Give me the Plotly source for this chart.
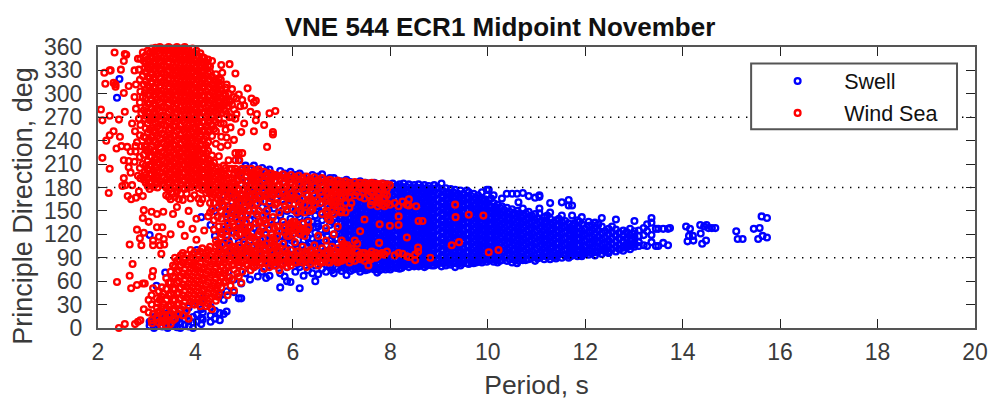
import plotly.graph_objects as go

title_text = "VNE 544 ECR1 Midpoint November"
x_label = "Period, s"
y_label = "Principle Direction, deg"
x_ticks = [2, 4, 6, 8, 10, 12, 14, 16, 18, 20]
y_ticks = [0, 30, 60, 90, 120, 150, 180, 210, 240, 270, 300, 330, 360]
reference_directions = [90, 180, 270]

# Swell: each row is one period and the directions read at that period
swell_columns = [
 (3.06,[119,3,8]),(3.15,[0,6,14]),(3.2,[54,12,3]),(3.32,[2,9,17]),(3.38,[71,5,13]),(3.43,[0,8,19]),(3.55,[4,12,23]),(3.62,[9,17,1]),
 (3.69,[0,6,15,22]),(3.78,[4,11,19]),(3.86,[2,9,26]),(3.95,[0,7,14,31]),(4.03,[8,17,100]),(4.12,[142,5,13,24]),(4.15,[11,20,38]),
 (4.31,[8,16,27,132]),(4.4,[12,22,118,150]),(4.5,[10,19,43,160,105]),(4.58,[36,18,88,126,170]),(4.64,[21,47,112,142,97]),(4.68,[112,156,175,131,72]),
 (4.79,[46,62,96,122,148,168,186]),(4.89,[215,38,80,110,136,158,178,196]),(4.94,[38,57,92,127,151,170,203]),(5.03,[70,103,120,145,165,188,208]),
 (5.12,[62,86,112,138,160,182,204]),(5.2,[208,78,99,128,152,175,195]),(5.28,[66,92,118,143,168,188,203]),(5.37,[205,72,105,130,155,180,196]),
 (5.45,[64,88,120,146,170,192,201]),(5.52,[67,98,112,138,162,184,203]),(5.61,[80,106,128,153,176,196]),(5.74,[52,70,92,118,144,170,190,201]),
 (5.83,[66,86,110,132,158,180,198]),(5.88,[60,78,102,124,150,172,194]),(5.95,[59,200,94,116,140,164,186]),(6.05,[72,86,108,128,150,174,196]),
 (6.14,[51,78,98,120,142,164,186,198]),(6.22,[67,90,112,134,156,178,194]),(6.31,[74,84,104,126,148,170,190]),(6.4,[70,92,114,136,158,180,196]),
 (6.46,[60,80,100,122,144,166,186]),(6.52,[69,88,108,130,152,174,194]),(6.6,[197,76,96,116,138,160,182]),(6.68,[72,86,106,124,146,168,188]),
 (6.76,[78,94,112,132,154,176,192]),(6.84,[192,70,86,102,120,140,162,182]),(6.92,[76,92,108,128,148,170,188]),
 (7.0,[188,181,173,165,158,150,142,135,127,119,112,104,96,89,81,73]),
 (7.1,[190,183,175,168,160,152,145,137,129,122,114,106,99,91,83,76,68]),
 (7.18,[187,180,172,164,156,149,141,133,126,118,110,103,95,87,80,73]),
 (7.29,[186,178,171,163,155,147,140,132,124,117,109,101,94,86,78]),
 (7.38,[188,181,173,166,158,150,143,135,127,120,112,104,97,89,81,72]),
 (7.49,[186,178,170,163,155,148,140,132,125,117,109,102,94,86,79,74]),
 (7.58,[185,177,170,162,154,146,139,131,123,116,108,100,93,85,77]),
 (7.67,[186,179,171,163,156,148,140,133,125,117,110,102,94,87,79,75]),
 (7.73,[184,176,168,161,153,145,138,130,122,115,107,99,92,84,76,71]),
 (7.86,[185,177,169,162,154,146,139,131,123,116,108,100,93,85,78]),
 (7.95,[184,177,169,161,154,146,138,131,123,115,108,100,92,85,77]),
 (8.05,[185,178,170,162,155,147,139,132,124,116,109,101,93,86,78]),
 (8.19,[184,176,169,161,153,146,138,130,123,115,107,100,92,84,76]),
 (8.27,[185,177,170,162,154,147,139,131,124,116,108,101,93,85,79]),
 (8.38,[184,176,168,161,153,145,138,130,122,115,107,99,92,84,78]),
 (8.49,[183,176,168,160,153,145,137,130,122,114,107,99,91,84,79]),
 (8.58,[184,177,169,161,154,146,138,131,123,115,108,100,92,85,79]),
 (8.7,[183,175,167,160,152,144,137,129,121,114,106,98,91,83,78]),
 (8.79,[182,174,167,159,151,144,136,128,121,113,105,98,90,82]),
 (8.9,[183,175,168,160,152,145,137,129,122,114,106,99,91,84,80]),
 (9.05,[185,178,170,162,155,147,139,132,124,116,109,101,93,86,79]),
 (9.14,[179,172,164,156,149,141,133,126,118,110,103,95,87,80]),
 (9.24,[178,170,162,155,147,139,132,124,116,109,101,93,86,81]),
 (9.33,[177,169,161,154,146,138,131,123,115,108,100,92,85,78]),
 (9.44,[176,168,161,153,145,138,130,122,115,107,99,92,84,80]),
 (9.57,[168,176,160,152,144,137,129,121,114,106,98,91,83]),
 (9.61,[174,166,158,151,143,135,128,120,112,105,97,89,82]),
 (9.71,[172,164,157,149,141,134,126,118,111,103,95,88,83]),
 (9.8,[170,162,154,147,139,131,124,116,108,101,93,85]),
 (9.88,[174,165,157,149,142,134,126,119,111,103,96,88,84]),
 (9.98,[170,177,160,152,145,137,129,122,114,106,99,91,85]),
 (10.02,[177,164,156,148,141,133,125,118,110,102,95,87]),
 (10.12,[170,160,152,145,137,129,122,114,106,99,91,85]),
 (10.2,[158,150,143,135,127,120,112,104,97,89,84]),
 (10.29,[166,156,149,141,133,126,118,110,103,95,87]),
 (10.39,[172,154,147,139,131,124,116,108,101,93,86]),
 (10.5,[172,152,145,137,129,122,114,106,99,91,84]),
 (10.6,[172,150,143,135,127,120,112,104,97,89,83]),
 (10.63,[161,146,138,130,123,115,107,100,92,86]),
 (10.72,[173,153,144,136,129,121,113,106,98,90,87]),
 (10.84,[169,149,141,134,126,118,111,103,95,88]),
 (10.97,[167,146,138,131,123,115,108,100,92,86]),
 (11.06,[170,168,153,147,136,128,120,113,105,97,90]),
 (11.16,[142,134,126,119,111,103,96,88]),
 (11.28,[148,160,140,132,125,117,109,102,94,88]),
 (11.4,[138,131,123,115,108,100,92,89]),
 (11.52,[161,144,136,128,121,113,105,98,90]),
 (11.66,[164,157,134,127,119,111,104,96,90]),
 (11.73,[157,144,131,124,116,108,101,93]),
 (11.84,[138,130,122,115,107,99,92]),
 (11.93,[142,133,125,118,110,102,95,92]),
 (12.07,[131,136,123,116,108,100,94]),
 (12.2,[135,128,120,113,105,97,93]),
 (12.34,[141,130,122,114,107,100,95]),
 (12.48,[127,120,112,105,98,96]),
 (12.63,[139,126,118,111,104,98]),
 (12.78,[125,118,110,103,99]),
 (12.92,[127,119,112,105,101]),
 (13.01,[137,124,117,109,104]),
 (13.1,[125,118,110,105]),
 (13.2,[128,119,106]),(13.27,[133,124,105]),(13.36,[141,135,119,110]),(13.45,[127,105]),(13.5,[127,105]),(13.6,[127,109]),(13.7,[127,106]),(13.74,[128]),
 (14.07,[130]),(14.1,[111]),(14.13,[118]),(14.15,[127]),(14.21,[118]),(14.22,[112]),(14.36,[132]),(14.37,[121]),(14.4,[108]),(14.44,[130]),(14.48,[112]),
 (14.49,[132]),(14.53,[128]),(14.6,[128]),(14.67,[128]),(15.1,[124]),(15.13,[114]),(15.23,[114]),(15.46,[127]),(15.55,[114]),(15.58,[128]),(15.62,[143]),
 (15.64,[118]),(15.73,[141,116]),(2.39,[295]),(2.44,[319]),
]

# Further swell readings lying between the rows above, where the cloud is solid
swell_fill_columns = [
 (5.0,[176,150,128,114,96]),(5.16,[170,146,122,104,90]),(5.33,[162,136,112,84]),(5.5,[174,152,126,104,80]),(5.66,[166,138,114,96]),(5.78,[176,150,124,104,82]),
 (5.98,[176,152,132,112,90]),(6.1,[192,168,146,124,102,82]),(6.18,[182,154,128,106,84]),(6.3,[188,160,138,116,94]),(6.36,[176,152,130,108,86]),
 (6.5,[184,156,134,112,90]),(6.58,[172,148,126,104,84]),(6.7,[190,164,142,118,96,80]),(6.8,[178,158,136,114,92,74]),(6.88,[186,166,152,134,114,96,78]),(6.96,[180,160,140,122,102,84]),
 (7.05,[185,177,169,162,154,146,139,131,123,116,108,100,93,85,77]),
 (7.14,[186,179,171,164,156,148,141,133,125,118,110,102,95,87,79]),
 (7.24,[184,176,168,160,152,144,137,129,121,114,106,98,90,82,75]),
 (7.34,[184,177,169,162,154,146,138,130,123,115,107,100,92,84,76]),
 (7.44,[183,175,167,160,152,144,136,129,121,113,106,98,90,83,76]),
 (7.54,[182,174,166,159,151,143,135,128,120,112,105,97,90,82,75]),
 (7.63,[182,175,167,159,152,144,136,129,121,113,106,98,90,83,77]),
 (7.78,[181,173,165,158,150,142,134,127,119,111,104,96,88,81,74]),
 (7.9,[181,173,166,158,150,142,135,127,119,112,104,96,89,81,75]),
 (8.0,[181,174,166,158,151,143,135,128,120,112,105,97,89,82,75]),
 (8.12,[182,174,166,158,150,143,135,127,119,112,104,96,88,81,77]),
 (8.23,[181,173,165,158,150,142,135,127,119,112,104,96,89,81,77]),
 (8.33,[181,173,165,157,150,142,134,126,119,111,103,96,88,81]),
 (8.43,[180,172,164,157,149,141,134,126,118,111,103,95,88,81]),
 (8.54,[180,173,165,157,149,142,134,126,119,111,103,96,88,81]),
 (8.64,[180,172,164,156,149,141,133,126,118,110,103,95,87,81]),
 (8.75,[179,171,163,156,148,140,133,125,117,110,102,94,87,80]),
 (8.85,[179,171,164,156,148,141,133,125,118,110,102,95,87,80]),
 (8.97,[180,172,164,156,149,141,133,126,118,110,103,95,87,82]),
 (9.09,[175,168,160,152,145,137,129,122,114,106,99,91,83]),
 (9.19,[174,166,159,151,143,136,128,120,113,105,97,90,83]),
 (9.29,[174,166,158,151,143,135,128,120,112,105,97,89,83]),
 (9.39,[172,165,157,149,142,134,126,119,111,103,96,88,82]),
 (9.5,[172,164,156,149,141,133,126,118,110,103,95,87,83]),
 (9.66,[169,161,153,146,138,131,123,115,108,100,92,85]),
 (9.76,[167,159,151,144,136,128,121,113,105,98,90,84]),
 (9.84,[166,158,151,143,135,128,120,112,105,97,89,86]),
 (9.94,[165,157,149,141,133,126,118,110,103,95,88]),
 (10.07,[166,156,148,141,133,126,118,110,103,95,88]),
 (10.16,[155,147,140,132,124,117,109,101,94,87]),
 (10.25,[154,146,138,131,123,115,108,100,92,86]),
 (10.34,[151,143,135,128,120,112,105,97,90]),
 (10.45,[149,141,133,126,118,110,103,95,88]),
 (10.55,[147,140,132,124,117,109,101,94,87]),
 (10.68,[141,133,126,118,110,103,95,88]),
 (10.78,[147,139,131,124,116,108,101,93,87]),
 (10.9,[144,136,128,121,113,105,98,90]),
 (11.02,[141,133,125,117,110,102,94,89]),
 (11.11,[138,130,123,115,107,100,92]),
 (11.22,[144,136,129,121,113,106,98,91]),
 (11.34,[135,127,120,112,104,97,91]),
 (11.46,[140,132,125,117,109,102,94]),
 (11.59,[137,130,123,115,107,100,93]),
 (11.7,[128,120,112,105,97,92]),
 (11.78,[134,127,119,111,104,96]),
 (11.88,[136,128,121,113,106,98,94]),
 (12.0,[127,120,112,105,98,95]),
 (12.14,[132,125,117,110,102,96]),
 (12.27,[133,125,117,110,103,98]),
 (12.41,[124,116,109,102,98]),
 (12.55,[130,123,115,108,101]),
 (12.7,[122,115,107,101]),
 (12.85,[123,115,108,103]),
 (12.97,[121,113,106]),
]

# Wind sea: same row layout
wind_columns = [
 (2.06,[280]),(2.09,[266,218]),(2.13,[327]),(2.15,[313]),(2.17,[240]),(2.22,[173]),(2.24,[330,272,247,204]),(2.26,[330]),(2.32,[314,252]),
 (2.34,[353]),(2.36,[309,312]),(2.39,[59]),(2.43,[267,0]),(2.45,[245]),(2.47,[331]),(2.48,[233]),(2.38,[230]),(2.5,[182]),(2.53,[342,301,215,192]),
 (2.55,[351,277,5]),(2.56,[183]),(2.58,[350]),(2.6,[232]),(2.61,[169]),(2.63,[214,206,310]),(2.65,[107,67]),(2.67,[226,199]),(2.68,[165,51]),(2.7,[183,262]),
 (2.71,[82]),(2.75,[213,296,330]),(2.76,[5,252]),(2.77,[233,226]),(2.78,[167,312,281]),(2.8,[126,55,238]),(2.82,[8,345,195]),(2.84,[175,268,331]),
 (2.86,[115,318,289,247,219,205]),(2.87,[10,345,303,260,192]),(2.89,[106,275,233]),(2.92,[169,141,57,353,323,296,210]),(2.94,[151,122,24,342,312,279,245,222,190]),
 (2.96,[57,333,301,268,233,200]),(3.02,[355,344,334,322,311,299,288,277,262,250,239,226,214,203,192,182]),
 (3.04,[136,36,20]),(3.1,[358,347,336,326,314,304,292,281,270,256,244,232,219,208,197,187,149,10,42,30]),(3.11,[66,6]),
 (3.13,[112,106,73,51,18]),(3.18,[359,349,339,329,318,307,296,285,274,262,250,238,227,215,205,194,184]),
 (3.21,[146,129,14,38,26]),(3.25,[117,7,47]),(3.27,[360,352,341,331,320,310,299,289,278,266,255,243,231,220,210,199,188,106,36,22]),
 (3.3,[95,3]),(3.34,[149,14,31,44]),(3.36,[107,358,348,337,327,317,306,295,284,272,260,248,236,225,214,204,193,183,9]),(3.32,[129]),(3.35,[114]),
 (3.45,[360,351,340,330,319,309,298,288,277,265,254,242,231,219,208,198,187,177,168,28,42,58,16]),(3.49,[120]),
 (3.54,[358,347,337,326,316,305,294,283,271,259,247,235,224,213,203,192,182,172,146,36,50,66,80,10,22]),
 (3.62,[360,350,340,329,319,308,298,287,275,264,252,240,228,217,207,196,186,175,155,30,44,58,72,86]),
 (3.7,[358,348,337,327,316,306,295,284,272,260,248,236,225,215,204,194,184,172,133,24,38,52,66,80,93]),
 (3.78,[360,350,339,329,318,308,297,286,274,263,251,239,228,218,208,198,188,178,118,34,48,62,76,89]),
 (3.86,[357,347,336,326,315,305,294,283,271,259,247,235,224,214,204,193,183,150,29,43,57,71,85,12]),
 (3.94,[358,349,339,328,318,307,297,286,275,263,251,240,229,218,208,198,188,127,38,52,66,80,94]),
 (4.02,[355,346,336,325,315,304,294,283,272,261,249,237,226,216,205,195,185,140,33,47,61,75,88,113]),
 (4.1,[352,343,333,322,312,301,291,280,269,257,245,234,223,213,203,193,183,160,28,42,56,70,84,98]),
 (4.18,[346,338,329,319,309,298,288,277,265,254,242,230,219,209,199,189,179,125,36,50,64,78,92]),
 (4.26,[344,336,326,316,306,296,285,274,263,251,238,227,216,206,196,186,176,31,45,59,73,87,100,143]),
 (4.34,[342,322,312,302,292,282,271,260,246,221,208,198,188,178,168,152,40,54,68,82,95,24]),
 (4.42,[325,316,306,296,286,275,264,252,236,204,194,184,174,112,35,49,63,77,91,104]),
 (4.48,[320,310,300,290,280,268,220,200,190,180,170,130,44,58,72,86,99]),
 (4.53,[337,305,295,285,275,245,197,187,177,140,52,66,80,94]),
 (4.55,[327,158,120,107]),(4.62,[308,298,288,278,254,205,195,185,175,146,60,74,88,101]),
 (4.66,[234,134,168,92,42]),(4.68,[215,300,284,192,182,152,78,98]),(4.7,[338,290,270,204,172,128,65,85,108]),
 (4.72,[257,180,140,88,54,100]),(4.79,[241,296,280,196,186,176,155,130,94,75,48]),(4.82,[326,224,215,268,204,166,145,88,104]),
 (4.89,[299,224,190,176,150,133,80,95,66]),(4.9,[215,200,160,120,90,106]),(4.94,[251,197,184,170,143,84,100,58]),(4.96,[292,224,204,190,138,150,72,92]),
 (5.0,[285,262,178,166,154,128,86,98,110]),(5.07,[307,200,188,175,162,145,80,94,106,120]),(5.13,[277,197,184,170,130,88,100,74]),
 (5.15,[294,204,192,178,158,116,84,96]),(5.2,[289,252,200,187,172,150,92,104,78]),(5.24,[291,266,196,182,166,134,86,98,112]),
 (5.26,[274,200,189,176,160,146,90,80]),(5.33,[194,184,170,124,94,104,84]),(5.41,[260,200,188,176,162,138,88,100,76]),(5.47,[232,196,184,172,150,94,84,108]),
 (5.52,[275,198,186,174,160,128,90,102,78]),(5.59,[251,248,194,182,170,142,86,96,116]),(5.64,[278,196,188,176,158,92,104,80]),
 (5.72,[195,184,172,148,124,88,98,74]),(5.8,[197,186,174,162,136,92,82,108]),(5.88,[194,182,170,152,118,86,96,78]),
 (5.96,[196,185,172,134,124,90,100,80]),(6.04,[193,182,168,128,136,84,94,110]),(6.12,[195,184,172,156,122,130,88,98]),
 (6.2,[192,180,166,134,126,92,84,104]),(6.28,[194,183,170,124,88,96,78]),(6.36,[191,180,166,150,90,82,100]),
 (6.44,[193,182,170,158,86,94,106]),(6.52,[190,178,164,118,88,96,80]),(6.6,[192,181,168,146,92,84,102]),
 (6.68,[189,178,164,150,128,88,96,112]),(6.76,[190,180,168,138,84,92,100]),(6.84,[188,176,162,146,120,88,96]),
 (6.92,[189,180,170,156,90,84,102,130]),(7.0,[187,178,166,150,92,86,98,112]),(7.08,[188,180,170,160,148,88,94,104]),
 (7.16,[186,178,168,154,92,84,100]),(7.27,[187,180,170,112,92,86]),(7.38,[186,179,124,168,94,88]),(7.47,[186,178,139,166,96,86]),
 (7.55,[185,178,170,80,92]),(7.62,[186,179,162,98,90]),(7.7,[185,178,168,96,90]),(7.77,[184,178,109,160,94]),(7.78,[133,164]),
 (7.83,[185,177,96,158]),(7.93,[184,178,98,160,170]),(7.99,[183,131,158]),(8.09,[93,160]),(8.17,[143,132,96,156]),
 (8.25,[162,95]),(8.34,[116,158,92]),(8.38,[165,157,91]),(8.51,[87,94]),(8.53,[156]),(8.57,[103,98]),(8.58,[137]),(8.66,[137]),(8.82,[90]),
 (9.26,[106]),(9.33,[158]),(9.34,[142]),(9.41,[110]),(9.61,[145]),(9.91,[144]),(10.02,[97]),(10.22,[100]),
]

# Further wind sea readings lying between the rows above, where the cloud is solid
wind_fill_columns = [
 (2.98,[349,339,328,316,305,294,283,272,256,244,228,208,196,186]),
 (3.06,[352,341,331,320,308,298,287,275,266,254,241,229,220,209,198,187,178]),
 (3.14,[354,342,332,321,309,299,288,277,267,253,240,226,212,201,191,181]),
 (3.22,[355,345,335,325,314,303,292,281,270,258,246,235,223,212,202,192,180,32,20,12]),
 (3.31,[356,346,336,326,315,304,294,283,272,261,249,237,225,215,205,194,184,27,40,52,8,16]),
 (3.4,[355,345,335,324,314,303,293,282,270,259,245,233,222,211,201,190,180,170,36,24,50,64,12,4]),
 (3.49,[355,345,334,324,313,302,292,280,268,256,244,232,221,210,200,190,179,165,44,58,72,30,16,5]),
 (3.58,[355,345,334,324,313,303,292,281,269,258,246,234,222,211,201,191,180,168,36,50,64,78,90,24,12]),
 (3.66,[354,344,333,323,312,302,291,279,267,255,243,231,220,210,200,190,179,165,31,45,60,74,88,18]),
 (3.74,[355,343,332,322,311,301,290,278,266,254,242,230,220,210,199,189,179,164,28,42,56,70,84,96,16]),
 (3.82,[354,344,333,323,312,302,291,280,268,256,244,233,223,213,203,193,183,172,39,53,67,81,94,22]),
 (3.9,[353,343,332,322,311,300,290,279,267,255,243,232,221,211,201,191,180,166,34,48,62,76,90,100]),
 (3.98,[352,343,333,322,312,301,291,280,269,257,245,233,222,212,202,192,182,170,30,43,57,71,84,97]),
 (4.06,[348,340,330,319,309,298,288,277,265,253,242,230,220,209,199,189,179,166,38,52,66,79,93]),
 (4.14,[347,340,330,320,309,298,288,276,264,252,240,228,217,207,197,187,177,165,33,47,61,75,89,102]),
 (4.22,[340,332,323,313,303,292,282,270,258,246,234,224,213,203,193,183,173,41,55,69,83,96,28]),
 (4.3,[335,328,318,308,298,288,278,266,254,215,202,192,182,172,160,148,37,50,64,78,92,104]),
 (4.38,[317,307,297,287,277,266,255,212,201,191,181,171,160,138,126,45,58,72,86,98]),
 (4.46,[315,305,295,285,274,206,196,186,176,166,154,142,40,54,68,82,95,108]),
 (4.52,[318,312,282,262,232,162,150,122,116]),
 (4.58,[300,290,280,262,208,198,188,178,168,156,130,58,70,84,97]),
 (4.64,[312,292,274,244,164,146,124,118]),
 (4.75,[306,286,270,204,192,182,172,160,150,136,122,62,80,92,104]),
 (4.84,[294,274,158,140,126,118]),
 (4.86,[200,188,178,168,146,70,84,98]),
 (4.92,[284,166,152,128,120]),
 (5.04,[204,194,182,170,156,136,124,82,92,102]),
 (5.1,[160,150,128,118]),
 (5.18,[196,188,176,164,86,94,104,116]),
 (5.3,[203,192,180,168,150,136,120,88,96,108]),
 (5.38,[144,128,114,106]),
 (5.44,[194,182,170,134,122,92,84,102]),
 (5.56,[198,190,178,166,136,120,110,88,98,82]),
 (5.62,[128,112,106]),
 (5.68,[194,182,172,160,130,118,104,90,100,84]),
 (5.84,[192,180,168,156,128,122,90,100,84]),
 (5.92,[190,178,166,160,128,118,92,84]),
 (6.0,[166,152,136,120]),
 (6.08,[190,178,164,148,132,126,90,98,84]),
 (6.16,[160,150,120]),
 (6.24,[188,176,158,148,124,118,94,86]),
 (6.32,[164,136,128]),
 (6.4,[188,176,162,152,92,86,98]),
 (6.56,[186,174,160,90,84,96]),
 (6.72,[186,174,166,156,148,140,90,84,96]),
 (6.8,[172,160,150,104]),
 (6.88,[184,174,160,92,86,98]),
 (6.98,[168,156,148,96]),
 (7.04,[184,174,92,88,100,108]),
 (7.12,[106,98]),
 (7.2,[183,174,160,94,88,102]),
 (7.32,[183,174,92,98,108]),
 (7.43,[183,174,90,96]),
 (7.6,[182,174,94,88,158]),
 (7.74,[182,172,92,164,156]),
 (7.88,[181,172,94,166,156]),
]

swell_rows = swell_columns + swell_fill_columns
wind_rows = wind_columns + wind_fill_columns
swell_period = [p for p, ds in swell_rows for _ in ds]
swell_direction = [d for _, ds in swell_rows for d in ds]
wind_period = [p for p, ds in wind_rows for _ in ds]
wind_direction = [d for _, ds in wind_rows for d in ds]

FONT = "Liberation Sans"
FRAME = "#555555"
TEXT = "#3a3a3a"

def ring(color):
    return dict(symbol="circle-open", size=5.8, color=color, line=dict(width=2.3, color=color))

fig = go.Figure()
fig.add_trace(go.Scatter(x=swell_period, y=swell_direction, mode="markers", name="Swell",
                         marker=ring("#0000ff"), legendgroup="swell", cliponaxis=False))
fig.add_trace(go.Scatter(x=wind_period, y=wind_direction, mode="markers", name="Wind Sea",
                         marker=ring("#ff0000"), legendgroup="wind", cliponaxis=False))
for level in reference_directions:
    fig.add_trace(go.Scatter(x=[x_ticks[0], x_ticks[-1]], y=[level, level], mode="lines", showlegend=False,
                             hoverinfo="skip", line=dict(color="black", width=1.4, dash="1.4px,6.6px")))

axis = dict(showgrid=False, zeroline=False, showline=True, linecolor=FRAME, linewidth=2, mirror="allticks",
            ticks="inside", ticklen=9, tickwidth=1, tickcolor="#222222",
            tickfont=dict(family=FONT, size=23, color=TEXT))
fig.update_xaxes(range=[2, 20], tickvals=x_ticks, ticklabelstandoff=2,
                 title=dict(text=x_label, font=dict(family=FONT, size=26.5, color=TEXT), standoff=12), **axis)
fig.update_yaxes(range=[0, 360], tickvals=y_ticks, ticklabelstandoff=9, **axis)

left, right, top, bottom = 97.5, 975, 46.5, 328
def px_x(v): return (v - left) / (right - left)
def px_y(v): return (bottom - v) / (bottom - top)

fig.add_shape(type="rect", xref="paper", yref="paper", x0=px_x(751), x1=px_x(957), y0=px_y(129), y1=px_y(63),
              fillcolor="white", line=dict(color=FRAME, width=2), layer="above")
fig.add_annotation(text=y_label, xref="paper", yref="paper", x=px_x(23), y=px_y(206), textangle=-90,
                   showarrow=False, xanchor="center", yanchor="middle", font=dict(family=FONT, size=27, color=TEXT))

fig.update_layout(
    width=993, height=403, autosize=False,
    margin=dict(l=97.5, r=18, t=46.5, b=75, autoexpand=False),
    paper_bgcolor="white", plot_bgcolor="white",
    title=dict(text="<b>" + title_text + "</b>", x=500 / 993, xanchor="center", y=1 - 27 / 403, yanchor="middle",
               font=dict(family=FONT, size=26, color="#111111")),
    legend=dict(x=px_x(751), y=px_y(60), xanchor="left", yanchor="top",
                bgcolor="rgba(0,0,0,0)", borderwidth=0, font=dict(family=FONT, size=21.5, color="#111111"),
                itemwidth=83, entrywidth=118, entrywidthmode="pixels", traceorder="grouped", tracegroupgap=1),
    showlegend=True,
)
fig.write_html("out.html", config={"displayModeBar": False}, post_script="document.body.style.margin='0';")
